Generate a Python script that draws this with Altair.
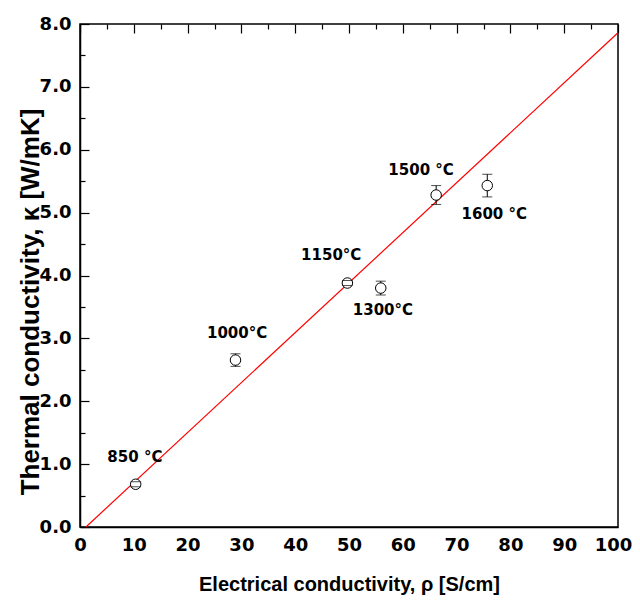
import altair as alt
import pandas as pd

# ---- data ----
temps = ["850 °C", "1000°C", "1150°C", "1300°C", "1500 °C", "1600 °C"]
sigma = [10.35, 28.9, 49.7, 55.9, 66.2, 75.7]
kappa = [0.68, 2.655, 3.88, 3.80, 5.28, 5.43]
kerr = [0.04, 0.10, 0.04, 0.11, 0.15, 0.18]
label_x = [10.2, 29.2, 46.7, 56.3, 63.4, 77.0]
label_y = [1.11, 3.08, 4.32, 3.45, 5.68, 4.98]
fit_x = [1.1, 100]
fit_y = [0.0, 7.86]
x_ticks = list(range(0, 101, 5))            # majors every 10, minors between
y_ticks = [i / 2 for i in range(0, 17)]     # majors every 1, minors between

W, H = 538, 503
FONT = "Liberation Sans"
NUMFONT = "DejaVu Sans"

pts = pd.DataFrame({"x": sigma, "y": kappa,
                    "lo": [k - e for k, e in zip(kappa, kerr)],
                    "hi": [k + e for k, e in zip(kappa, kerr)]})
labs = pd.DataFrame({"x": label_x, "y": label_y, "t": temps})
fit = pd.DataFrame({"x": fit_x, "y": fit_y})

xs = alt.Scale(domain=[0, 100], nice=False, zero=False)
ys = alt.Scale(domain=[0, 8], nice=False, zero=False)

# inward ticks are drawn as grid lines dashed so only a short piece at the axis shows
x_axis = alt.Axis(values=x_ticks, ticks=False, grid=True, gridColor="black",
                  gridOpacity=1, gridWidth=1.2,
                  gridDash={"condition": {"test": "datum.value % 10 == 0",
                                          "value": [9, 2000]},
                            "value": [5, 2000]},
                  labelExpr="datum.value % 10 == 0 ? datum.label : ''",
                  labelFontSize=18, labelFontWeight="bold", labelFont=NUMFONT,
                  labelColor="black", labelPadding=9, domainColor="black",
                  domainWidth=1.5,
                  labelOffset={"condition": {"test": "datum.value == 100", "value": -5},
                               "value": 0},
                  title="Electrical conductivity, ρ [S/cm]", titleFontSize=20,
                  titleFont=FONT, titleFontWeight="bold", titleColor="black",
                  titlePadding=20, labelFlush=False)
y_axis = alt.Axis(values=y_ticks, ticks=False, grid=True, gridColor="black",
                  gridOpacity=1, gridWidth=1.2,
                  gridDash={"condition": {"test": "datum.value % 1 == 0",
                                          "value": [9, 2000]},
                            "value": [5, 2000]},
                  labelExpr="datum.value % 1 == 0 ? datum.label : ''",
                  labelFontSize=18, labelFontWeight="bold", labelFont=NUMFONT,
                  labelColor="black", labelPadding=9, domainColor="black",
                  domainWidth=1.5,
                  title="Thermal conductivity, κ [W/mK]", titleFontSize=26,
                  titleFont=FONT, titleFontWeight="bold", titleColor="black",
                  titleX=-50, titleY=H / 2 + 26, titleBaseline="middle",
                  titleAlign="center", titleAngle=270, labelFlush=False)

X = lambda f: alt.X(f, scale=xs, axis=x_axis)
Y = lambda f: alt.Y(f, scale=ys, axis=y_axis)

line = alt.Chart(fit).mark_line(color="#ff0000", strokeWidth=1.2).encode(
    x=X("x:Q"), y=Y("y:Q"))
bars = alt.Chart(pts).mark_rule(color="black", strokeWidth=1).encode(
    x=X("x:Q"), y=Y("lo:Q"), y2="hi:Q")
circles = alt.Chart(pts).mark_point(shape="circle", size=110, filled=False,
                                    fill="white", fillOpacity=1, color="black",
                                    strokeWidth=1).encode(
    x=X("x:Q"), y=Y("y:Q"))
cap_lo = alt.Chart(pts).mark_tick(orient="horizontal", color="black", size=10,
                                  thickness=1).encode(x=X("x:Q"), y=Y("lo:Q"))
cap_hi = alt.Chart(pts).mark_tick(orient="horizontal", color="black", size=10,
                                  thickness=1).encode(x=X("x:Q"), y=Y("hi:Q"))
text = alt.Chart(labs).mark_text(font=NUMFONT, fontWeight="bold", fontSize=15,
                                 color="black", align="center",
                                 baseline="middle").encode(
    x=X("x:Q"), y=Y("y:Q"), text="t:N")

chart = alt.layer(
    line, bars, circles, cap_lo, cap_hi, text,
).properties(
    width=W, height=H,
    autosize=alt.AutoSizeParams(type="none"),
    padding={"left": 72, "top": 16, "right": 14, "bottom": 70},
    background="white",
).configure_view(stroke="black", strokeWidth=1.5)

chart.save("out.html", embed_options={"renderer": "svg", "actions": False})
